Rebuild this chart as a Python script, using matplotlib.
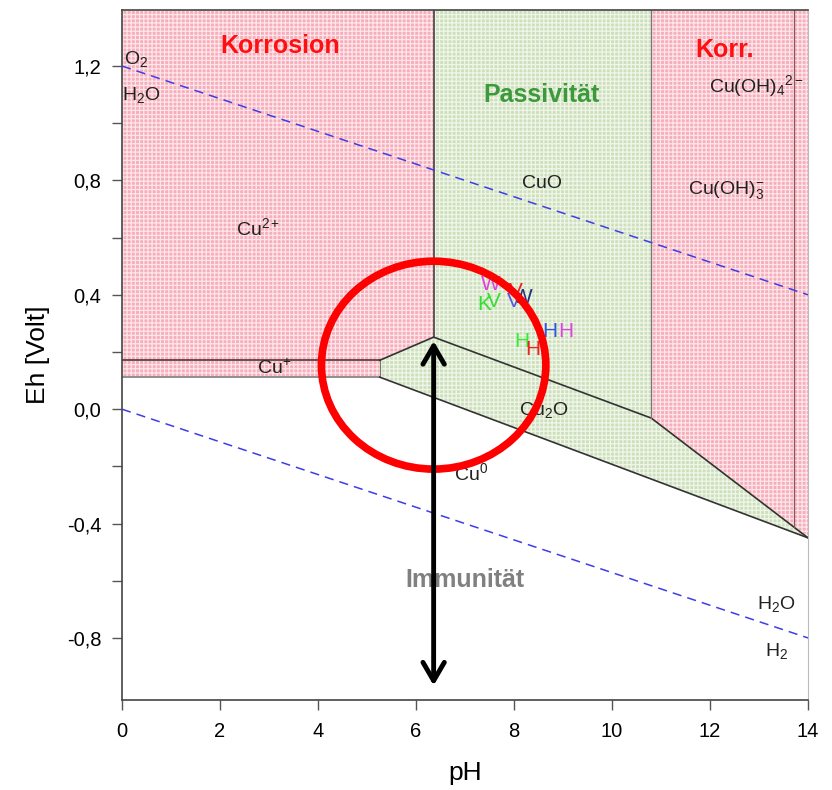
import numpy as np
import matplotlib
matplotlib.use('Agg')
import matplotlib.pyplot as plt
from matplotlib.patches import Ellipse, FancyArrowPatch

# Phase boundaries (pH, Eh in Volt)
ph_cu2_cuo = 6.36
ph_cuo_cuoh3 = 10.8
ph_cuoh3_cuoh4 = 13.72
ph_cu_plus_end = 5.26
eh_cu_plus_top = 0.171
eh_cu_plus_bottom = 0.112

cu2o_top_ph = [5.26, 6.36, 10.8, 14.0]
cu2o_top_eh = [0.171, 0.252, -0.031, -0.45]
cu2o_bottom_ph = [5.26, 14.0]
cu2o_bottom_eh = [0.112, -0.45]

# water stability lines
water_ph = [0, 14]
o2_h2o_eh = [1.2, 0.4]
h2o_h2_eh = [0.0, -0.8]

# measured samples (letters in the passive field)
sample_labels = ['W', 'K', 'V', 'V', 'V', 'W', 'H', 'H', 'H', 'H']
sample_ph = [7.52, 7.40, 7.58, 8.03, 7.99, 8.17, 8.73, 9.05, 8.15, 8.38]
sample_eh = [0.437, 0.367, 0.375, 0.413, 0.375, 0.389, 0.273, 0.273, 0.238, 0.207]
sample_colors = ['#e040e0', '#33dd33', '#33dd33', '#ee2222', '#5555dd',
                 '#223377', '#3355dd', '#dd44dd', '#33ee33', '#ee2222']

# marked pH (circle + arrow)
marked_ph = 6.36
marked_eh = 0.154

ymin, ymax = -1.017, 1.396
yticks = [1.2, 0.8, 0.4, 0.0, -0.4, -0.8]
ytick_labels = ['1,2', '0,8', '0,4', '0,0', '-0,4', '-0,8']

plt.rcParams['font.family'] = ['Liberation Sans', 'DejaVu Sans']
plt.rcParams['mathtext.fontset'] = 'custom'
plt.rcParams['mathtext.rm'] = 'Liberation Sans'
plt.rcParams['mathtext.it'] = 'Liberation Sans'
plt.rcParams['mathtext.bf'] = 'Liberation Sans:bold'
plt.rcParams['hatch.linewidth'] = 0.9

pink = '#f7adba'
green = '#cde0bb'


def patterned(ax, xs, ys, color):
    ax.fill(xs, ys, facecolor=color, edgecolor='none', zorder=1)
    ax.fill(xs, ys, facecolor='none', edgecolor='white', hatch='++++',
            linewidth=0, alpha=0.7, zorder=1.1)


fig = plt.figure(figsize=(8.32, 7.9), dpi=100)
ax = fig.add_axes([122 / 832, 1 - 700 / 790, 686 / 832, 690 / 790])

# Korrosion (Cu2+ / Cu+)
patterned(ax,
          [0, ph_cu2_cuo, ph_cu2_cuo, ph_cu_plus_end, ph_cu_plus_end, 0],
          [ymax, ymax, cu2o_top_eh[1], eh_cu_plus_top, eh_cu_plus_bottom, eh_cu_plus_bottom],
          pink)
# Passivität: CuO
patterned(ax,
          [ph_cu2_cuo, ph_cuo_cuoh3, ph_cuo_cuoh3, ph_cu2_cuo],
          [ymax, ymax, cu2o_top_eh[2], cu2o_top_eh[1]],
          green)
# Passivität: Cu2O
patterned(ax,
          cu2o_top_ph + cu2o_bottom_ph[::-1],
          cu2o_top_eh + cu2o_bottom_eh[::-1],
          green)
# Korr. (Cu(OH)3- / Cu(OH)4 2-)
patterned(ax,
          [ph_cuo_cuoh3, 14, 14, ph_cuo_cuoh3],
          [ymax, ymax, cu2o_top_eh[3], cu2o_top_eh[2]],
          pink)

# boundary lines
ax.plot([0, ph_cu_plus_end], [eh_cu_plus_top] * 2, color='#3a2a2a', lw=1.1, zorder=2)
ax.plot([0, ph_cu_plus_end], [eh_cu_plus_bottom] * 2, color='#888888', lw=1.3, zorder=2)
ax.plot([ph_cu_plus_end] * 2, [eh_cu_plus_bottom, eh_cu_plus_top], color='#777777', lw=0.8, zorder=2)
ax.plot(cu2o_top_ph, cu2o_top_eh, color='#333333', lw=1.2, zorder=2)
ax.plot(cu2o_bottom_ph, cu2o_bottom_eh, color='#333333', lw=1.2, zorder=2)
ax.plot([ph_cu2_cuo] * 2, [cu2o_top_eh[1], ymax], color='#333333', lw=1.1, zorder=2)
ax.plot([ph_cuo_cuoh3] * 2, [cu2o_top_eh[2], ymax], color='#777777', lw=0.9, zorder=2)
eh_end = np.interp(ph_cuoh3_cuoh4, cu2o_top_ph, cu2o_top_eh)
ax.plot([ph_cuoh3_cuoh4] * 2, [eh_end, ymax], color='#8a5555', lw=0.9, zorder=2)

# water lines
ax.plot(water_ph, o2_h2o_eh, color='#3d3de8', lw=1.1, dashes=(6, 4), zorder=3)
ax.plot(water_ph, h2o_h2_eh, color='#3d3de8', lw=1.1, dashes=(6, 4), zorder=3)

# field names
ax.text(3.23, 1.27, 'Korrosion', color='#ff1010', fontsize=18, fontweight='bold',
        ha='center', va='center', zorder=4)
ax.text(8.57, 1.10, 'Passivität', color='#3c9a3c', fontsize=18, fontweight='bold',
        ha='center', va='center', zorder=4)
ax.text(12.3, 1.255, 'Korr.', color='#ff1010', fontsize=18, fontweight='bold',
        ha='center', va='center', zorder=4)
ax.text(7.0, -0.598, 'Immunität', color='#808080', fontsize=18, fontweight='bold',
        ha='center', va='center', zorder=4)

# species
chem = dict(color='#222222', fontsize=14, va='center', zorder=4)
ax.text(0.05, 1.225, r'O$_2$', ha='left', **chem)
ax.text(0.0, 1.10, r'H$_2$O', ha='left', **chem)
ax.text(2.78, 0.633, r'Cu$^{2+}$', ha='center', **chem)
ax.text(3.1, 0.145, r'Cu$^{+}$', ha='center', **chem)
ax.text(8.57, 0.79, 'CuO', ha='center', **chem)
ax.text(12.95, 1.13, r'Cu(OH)$_4{}^{2-}$', ha='center', **chem)
ax.text(12.33, 0.766, r'Cu(OH)$_3^{-}$', ha='center', **chem)
ax.text(8.6, -0.004, r'Cu$_2$O', ha='center', **chem)
ax.text(7.12, -0.224, r'Cu$^0$', ha='center', **chem)
ax.text(13.36, -0.68, r'H$_2$O', ha='center', **chem)
ax.text(13.36, -0.846, r'H$_2$', ha='center', **chem)

# samples
for lab, x, y, c in zip(sample_labels, sample_ph, sample_eh, sample_colors):
    ax.text(x, y, lab, color=c, fontsize=15, ha='center', va='center', zorder=5)

# highlight
ax.add_patch(Ellipse((marked_ph, marked_eh), 4.58, 0.727, fill=False,
                     edgecolor='#ff0000', lw=5.5, zorder=6))
ax.add_patch(FancyArrowPatch((marked_ph, -0.976), (marked_ph, 0.248),
                             arrowstyle='<->,head_length=0.6,head_width=0.35',
                             mutation_scale=22, lw=3.5, color='black', zorder=7))

ax.set_xlim(0, 14)
ax.set_ylim(ymin, ymax)
ax.set_xticks(range(0, 15, 2))
ax.set_yticks(np.arange(-0.8, 1.21, 0.2), minor=True)
ax.set_yticks(yticks)
ax.set_yticklabels(ytick_labels)
ax.tick_params(labelsize=14.5, color='#555555', length=7, width=1)
ax.tick_params(which='minor', length=7, width=1, color='#555555')
ax.tick_params(axis='x', pad=9)
ax.tick_params(axis='y', pad=8)

for side in ['left', 'bottom', 'top']:
    ax.spines[side].set_color('#444444')
    ax.spines[side].set_linewidth(1.2)
ax.spines['right'].set_color('#bbbbbb')

ax.set_xlabel('pH', fontsize=19, labelpad=14)
ax.set_ylabel('Eh [Volt]', fontsize=19, labelpad=12)

plt.savefig('out.png', dpi=100, facecolor='white')
plt.close()
